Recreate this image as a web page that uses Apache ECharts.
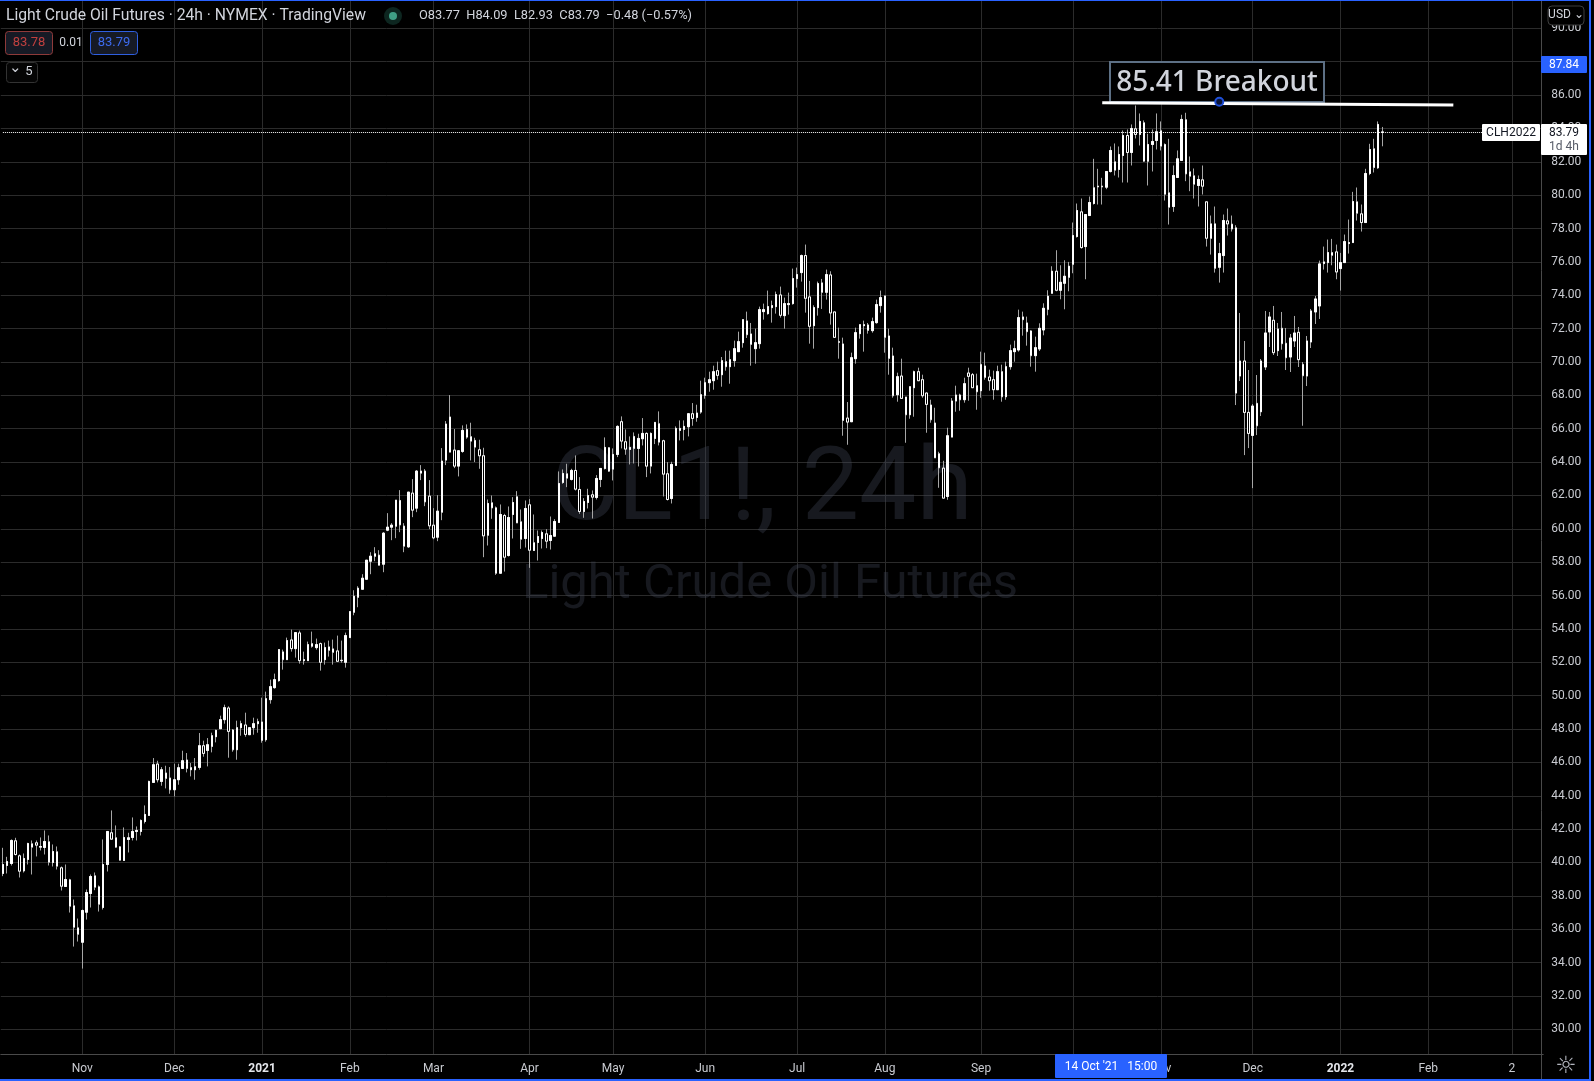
<!DOCTYPE html>
<html>
<head>
<meta charset="utf-8">
<title>Light Crude Oil Futures</title>
<script src="https://cdn.jsdelivr.net/npm/echarts@6/dist/echarts.min.js"></script>
<style>html,body{margin:0;padding:0;background:#000}#c{width:1594px;height:1081px}</style>
</head>
<body>
<div id="c"></div>
<script>
// Each row: [open, close, low, high]
const barsLate2020 = [
[39.34,39.88,39.18,40.88],[39.82,40.06,39.34,40.34],[39.94,41.32,39.82,41.38],[41.30,40.48,40.42,41.48],[40.40,39.48,39.10,40.48],
[39.50,40.24,39.40,40.54],[40.18,41.14,39.88,41.18],[41.12,40.92,39.28,41.32],[41.18,41.04,40.36,41.32],[40.92,40.96,40.72,41.50],
[40.90,41.26,40.48,41.92],[41.24,40.02,39.82,41.62],[40.00,40.66,39.76,41.08],[40.64,39.78,39.58,40.96],[39.68,38.58,38.32,39.76],
[38.56,38.98,38.56,39.88],[38.96,37.38,37.00,39.02],[37.40,36.12,34.96,37.78],[36.08,35.70,35.26,36.64],[35.22,37.12,33.64,37.18],
[37.02,38.20,36.58,38.38],[38.14,39.16,37.30,39.28],[39.20,38.52,38.34,39.40],[38.54,37.50,37.06,38.62],[37.30,39.88,37.18,41.38],
[39.88,41.86,39.46,41.86],[41.78,41.40,41.38,43.12],[41.48,40.92,40.88,42.22],[40.94,40.14,40.12,40.98],[40.12,41.50,40.12,42.10],
[41.38,41.48,40.60,41.78],[41.50,41.86,41.32,42.70],[41.86,41.92,41.32,42.16],[41.86,42.52,41.62,42.58],[42.46,42.88,42.34,43.42],
[42.82,44.86,42.82,44.90],[44.80,45.86,44.80,46.26],[45.90,44.96,44.80,46.10],[44.86,45.56,44.60,45.72],[45.36,45.04,44.44,45.80],
[45.06,44.36,44.12,45.72],[44.36,44.96,43.96,45.92],[44.96,45.68,44.66,45.92],[45.64,46.10,45.64,46.70],[46.14,45.64,45.40,46.56],
[45.56,45.68,45.16,45.96],[45.56,45.74,44.96,46.26],[45.70,47.00,45.56,47.76],[47.00,46.54,46.34,47.30],[46.72,47.06,45.76,47.46],
[46.96,47.60,46.60,47.78],[47.54,47.92,47.20,47.96],[48.02,48.56,48.02,48.80],[48.56,49.28,48.32,49.46],[49.26,47.86,46.28,49.36],
[47.94,46.76,46.64,48.00],[46.76,48.08,46.16,48.50],[48.08,48.32,47.60,48.50],[48.24,47.68,47.54,48.98],[47.66,48.08,47.66,48.08],
[48.08,48.32,47.66,48.68],[48.32,48.44,47.78,48.62]
];
const barsEarly2021 = [
[48.42,47.32,47.18,49.88],[47.36,49.82,47.24,50.24],[49.76,50.54,49.52,50.96],[50.48,50.96,50.42,51.32],[50.90,52.76,50.84,52.76],
[52.62,52.16,51.56,52.76],[52.16,53.30,52.16,53.48],[53.34,52.82,52.64,53.96],[52.82,53.78,52.28,53.78],[53.76,52.10,51.92,53.90],
[52.10,52.16,51.86,52.64],[52.10,53.06,52.10,53.24],[53.12,52.96,52.88,53.84],[52.88,53.06,52.76,53.42],[53.12,52.00,51.50,53.18],
[52.16,52.88,51.86,53.18],[52.92,52.72,52.34,53.30],[52.80,52.60,51.86,53.36],[52.68,52.06,52.02,53.60],[52.12,52.10,51.98,53.30],
[52.00,53.60,51.68,53.78],[53.48,55.04,53.48,55.04],[55.00,55.96,54.82,56.32],[55.90,56.44,55.30,56.56],[56.38,57.04,56.38,57.28],
[56.98,58.12,56.98,58.12],[58.06,58.36,57.28,58.60],[58.36,58.50,58.06,58.90],[58.42,57.82,57.82,58.72],[57.88,59.74,57.40,59.80],
[59.92,60.10,59.86,60.94],[60.10,60.22,59.32,60.34],[60.16,61.72,59.44,61.72],[61.70,60.24,59.80,62.32],[60.16,58.96,58.60,60.34],
[58.92,62.20,58.86,62.20],[62.14,61.12,60.70,62.98],[61.24,63.46,61.00,63.52],[63.34,63.46,62.92,63.82],[63.46,61.62,61.36,63.58],
[61.96,60.18,59.98,62.92],[60.22,59.46,59.38,61.24],[59.50,61.06,59.26,62.02],[61.00,64.06,60.52,64.84],[64.12,66.28,63.82,66.46],
[66.70,64.60,64.60,68.02],[64.72,63.76,63.64,65.98],[63.76,64.68,63.14,64.72],[64.64,65.90,64.56,66.20],[65.96,65.50,65.40,66.26],
[65.52,65.26,64.10,66.36],[65.30,64.90,64.00,65.46],[64.74,64.38,63.60,65.34],[64.38,59.58,58.30,64.86],[59.62,61.52,59.00,61.76],
[61.56,61.26,60.60,62.00],[61.26,57.34,57.24,61.34],[57.34,60.86,57.34,61.46],[60.80,58.30,57.44,60.90],[58.40,60.68,58.34,61.34],
[60.86,61.58,59.42,61.90],[61.92,60.36,60.36,62.26],[60.42,59.38,58.80,61.16],[59.42,61.22,58.88,61.70],[61.44,58.72,57.66,61.78],
[58.70,59.16,58.70,60.86],[59.18,59.54,58.10,59.90],[59.42,59.78,58.82,59.90],[59.70,59.26,58.84,59.98],[59.30,59.60,58.76,60.74],
[59.56,60.44,59.56,60.58],[60.38,62.72,60.38,63.44],[62.78,63.32,62.70,63.56],[63.30,63.04,62.50,63.90],[62.96,63.50,62.90,63.60],
[63.50,62.38,62.30,64.40],[62.36,61.04,60.90,63.10],[61.04,61.64,60.66,61.84],[61.58,62.00,61.22,62.40],[62.04,61.90,60.62,62.30],
[61.88,63.02,61.76,63.22],[62.96,63.62,62.50,63.62],[63.62,64.88,63.56,65.48],[64.86,63.46,63.42,64.90],[63.58,64.46,62.90,64.82],
[64.46,66.14,64.30,66.20],[66.42,65.26,64.82,66.74],[65.22,64.78,64.44,65.96],[64.76,64.88,63.86,65.54],[65.54,64.82,63.92,65.78],
[64.82,65.42,63.74,65.70],[65.40,65.72,65.00,66.64],[65.72,63.76,63.10,65.78],[63.76,65.72,63.32,65.78],[65.42,66.38,65.08,66.38],
[66.30,65.20,65.00,67.04],[65.28,63.28,61.94,65.34],[63.30,61.76,61.70,64.00],[61.82,63.86,61.52,64.02],[63.80,66.02,63.80,66.14],
[65.90,66.02,65.30,66.50],[65.96,66.14,65.30,66.50],[66.12,66.90,65.54,66.94],[66.90,66.62,66.18,67.54],[66.68,66.94,66.42,67.44]
];
const barsMid2021 = [
[67.00,68.04,66.90,68.88],[68.00,68.76,67.80,69.06],[68.76,68.94,68.22,69.42],[68.88,69.42,68.34,69.78],[69.48,69.20,68.94,70.02],
[69.24,70.08,68.52,70.30],[70.02,69.72,69.48,70.68],[69.72,70.14,68.70,70.68],[70.08,70.80,69.72,71.28],[70.62,71.22,70.62,71.82],
[71.16,72.54,70.86,72.54],[72.46,71.64,71.44,73.02],[71.68,71.06,69.78,72.34],[70.80,71.16,69.90,72.00],[71.10,73.14,70.80,73.32],
[73.02,73.14,72.54,73.50],[72.90,73.32,72.84,74.28],[73.26,73.38,72.36,73.68],[73.32,74.04,72.90,74.22],[74.02,72.80,72.66,74.52],
[72.78,73.50,72.00,73.86],[73.44,73.50,72.84,74.16],[73.50,75.00,73.44,75.60],[75.00,75.24,74.46,75.66],[75.36,76.38,74.82,76.44],
[76.38,73.82,72.96,77.04],[73.90,72.14,71.10,74.86],[72.18,73.26,70.80,73.40],[73.26,74.70,72.78,74.82],[74.74,74.18,73.18,74.98],
[74.18,75.24,73.74,75.54],[75.22,72.94,72.24,75.44],[73.00,71.48,71.48,73.00],[71.22,71.18,70.20,72.06],[71.08,66.50,65.58,71.46],
[66.64,66.40,65.04,67.60],[66.42,70.26,66.42,70.56],[70.20,71.76,69.90,72.06],[71.70,72.24,71.40,72.24],[72.18,72.24,70.62,72.48],
[72.22,71.90,71.70,72.34],[71.88,72.42,71.76,72.66],[72.36,73.44,72.30,73.74],[73.38,73.86,72.96,74.28],[73.96,71.48,70.56,73.96],
[71.56,70.22,69.24,72.00],[70.36,67.98,67.86,70.86],[68.04,69.12,67.62,69.36],[69.16,67.82,67.82,70.20],[67.90,66.84,65.16,67.90],
[66.84,68.52,66.60,68.52],[68.46,69.42,66.72,69.48],[69.42,68.88,68.88,69.66],[68.94,67.98,67.86,69.24],[68.14,67.46,65.76,68.16],
[67.42,66.54,66.36,67.74],[66.34,64.26,64.26,67.26],[64.50,63.66,62.46,64.62],[63.64,61.84,61.84,64.08],[61.94,65.58,61.74,66.06],
[65.50,67.66,65.50,67.84],[67.66,68.02,67.02,68.58],[68.02,67.74,67.08,68.10],[67.74,68.70,67.56,69.06],[69.34,69.14,67.68,69.66],
[69.24,68.46,68.46,69.34],[68.58,68.22,67.14,69.30],[68.28,69.84,67.86,70.62],[69.76,69.08,68.94,70.56],[69.10,68.88,68.28,69.54],
[68.94,68.34,67.74,69.48],[68.34,69.42,68.34,69.78],[69.42,67.92,67.62,69.84],[67.92,69.72,67.74,70.02],[69.72,70.68,69.54,71.04],
[70.62,70.80,70.02,71.28],[70.72,72.66,70.62,73.14],[72.70,72.54,71.58,73.02],[72.34,71.82,70.98,72.72],[71.86,70.38,69.72,71.90]
];
const barsLate2021 = [
[70.38,70.86,69.42,71.52],[70.78,72.02,70.66,72.32],[71.92,73.22,71.60,73.52],[73.16,73.94,72.80,74.30],[74.12,75.44,74.12,75.74],
[75.44,74.30,74.24,76.70],[74.30,74.78,73.76,75.80],[74.72,75.14,73.16,76.10],[75.08,75.74,74.24,76.00],[75.86,77.58,75.32,78.36],
[77.52,79.08,77.46,79.50],[79.00,76.86,76.80,79.80],[76.92,78.84,74.96,78.84],[78.78,79.56,78.78,79.92],[79.50,80.44,79.44,82.18],
[80.50,80.54,79.44,81.58],[80.54,80.50,79.44,81.04],[80.48,81.42,80.36,81.42],[81.42,82.68,81.36,82.92],[82.00,81.50,81.18,83.10],
[81.54,82.44,81.06,82.92],[82.38,83.58,80.76,83.88],[83.58,82.56,80.76,83.94],[82.56,84.00,81.78,84.24],[83.98,83.64,83.40,85.38],
[83.64,84.42,82.98,84.90],[84.34,82.04,82.00,84.48],[82.04,83.04,80.58,83.68],[83.04,83.22,81.42,83.94],[83.28,83.80,82.74,84.90],
[83.86,82.94,82.68,84.42],[83.04,80.06,79.68,83.10],[80.14,79.28,78.24,83.38],[79.32,81.18,79.00,81.78],[81.06,82.18,81.06,82.68],
[82.08,84.54,82.08,84.82],[84.52,81.28,80.84,84.94],[81.40,81.14,80.24,82.32],[81.16,80.66,79.80,81.60],[80.58,80.94,79.32,81.18],
[80.92,80.54,80.04,81.78],[79.60,77.42,76.92,79.60],[77.42,78.28,76.44,78.78],[78.28,75.62,75.36,79.32],[75.68,76.50,74.76,77.14],
[76.38,78.48,75.36,78.84],[78.46,78.28,77.58,79.20],[78.26,77.98,77.82,78.78],[78.04,68.14,67.42,78.20],[69.16,70.06,68.86,72.94],
[70.06,66.98,64.42,71.26],[66.98,65.72,64.84,69.52],[65.60,67.36,62.44,67.48],[67.52,66.18,65.62,69.22],[67.02,70.06,66.76,70.18],
[69.70,71.74,69.52,73.06],[71.80,72.70,70.90,73.00],[72.50,70.56,70.42,73.36],[70.68,71.98,70.36,72.34],[72.02,71.10,70.74,73.00],
[71.12,70.26,69.52,72.04],[70.30,71.44,69.40,71.68],[71.26,71.74,70.90,72.76],[71.78,70.14,69.70,72.10],[69.86,69.18,66.18,70.00],
[69.16,71.26,68.56,71.56],[71.20,73.06,70.84,73.18],[73.00,73.78,72.28,73.96],[73.36,75.88,72.58,76.08],[75.90,76.00,75.54,76.92],
[75.96,76.56,75.36,77.34],[76.56,76.40,75.80,77.38],[76.60,75.40,74.96,77.04],[75.60,75.96,74.28,76.54],[75.96,77.22,75.96,77.64]
];
const barsEarly2022 = [
[77.10,77.16,76.50,78.54],[77.16,79.62,77.16,80.20],[79.60,78.92,78.48,80.46],[78.88,78.36,77.82,79.44],[78.36,81.30,78.36,81.58],
[81.30,82.74,81.20,83.08],[82.78,81.66,81.36,83.38],[81.64,84.24,81.58,84.42],[83.77,83.79,82.93,84.09]
];
const quotes = [...barsLate2020, ...barsEarly2021, ...barsMid2021, ...barsLate2021, ...barsEarly2022];

// Month boundaries on the bar axis
const monthBars  = [19,41,62,83,103,126,146,168,190,211,234,256,277,299,320,341,361];
const monthNames = ['Nov','Dec','2021','Feb','Mar','Apr','May','Jun','Jul','Aug','Sep','Oct','Nov','Dec','2022','Feb','2'];
const futureBars = 38;
const priceTicks = [30,32,34,36,38,40,42,44,46,48,50,52,54,56,58,60,62,64,66,68,70,72,74,76,78,80,82,84,86,88,90];

const lastPrice = 83.79;
const breakoutStart = [262.9, 85.54];
const breakoutEnd   = [346.9, 85.40];
const breakoutHandle = [290.6, 85.60];

const categories = [];
for (let i = 0; i < quotes.length + futureBars; i++) categories.push(String(i));

const UI = 'Roboto, sans-serif';
const txt = (text, x, y, fill, size, align, extra) => ({
  type: 'text', z: 101, silent: true,
  style: Object.assign({ text, x, y, fill, font: size + 'px ' + UI, textAlign: align || 'left', textVerticalAlign: 'middle' }, extra || {})
});
const box = (x, y, w, h, fill, stroke, r, z, lw) => ({
  type: 'rect', z: z || 100, silent: true,
  shape: { x, y, width: w, height: h, r: r || 0 },
  style: { fill: fill, stroke: stroke || null, lineWidth: stroke ? (lw || 1) : 0 }
});

const chart = echarts.init(document.getElementById('c'), null, { renderer: 'canvas' });
chart.setOption({
  backgroundColor: '#000',
  animation: false,
  grid: { left: 0.8, right: 50.78, top: 1, bottom: 27 },
  xAxis: {
    type: 'category',
    data: categories,
    boundaryGap: true,
    axisLine: { show: true, lineStyle: { color: '#4a4a4a' } },
    axisTick: { show: false },
    splitLine: { show: true, alignWithLabel: true, interval: i => monthBars.includes(i), lineStyle: { color: '#2b2b2b', width: 1 } },
    axisLabel: {
      interval: i => monthBars.includes(i),
      margin: 9,
      color: '#c9cbd1',
      fontFamily: UI,
      fontSize: 12,
      hideOverlap: false,
      formatter: (v, idx) => {
        const name = monthNames[monthBars.indexOf(Number(v))];
        return /^20/.test(name) ? '{y|' + name + '}' : name;
      },
      rich: { y: { fontFamily: UI, fontSize: 12, fontWeight: 'bold', color: '#e3e5ea' } }
    }
  },
  yAxis: {
    type: 'value',
    position: 'right',
    min: 28.52,
    max: 91.64,
    axisLine: { show: false },
    axisTick: { show: false, customValues: priceTicks },
    splitLine: { show: true, lineStyle: { color: '#2b2b2b', width: 1 } },
    axisLabel: {
      customValues: priceTicks,
      margin: 8,
      padding: [3, 0, 0, 0],
      color: '#c9cbd1',
      fontFamily: UI,
      fontSize: 12,
      formatter: v => Number(v).toFixed(2)
    }
  },
  series: [
    {
      name: 'CL1! wicks',
      type: 'candlestick',
      barWidth: 2,
      z: 3,
      itemStyle: { color: '#fff', color0: '#000', borderColor: '#a6a6a6', borderColor0: '#a6a6a6', borderColorDoji: '#a6a6a6', borderWidth: 1 },
      data: quotes.map(q => q.slice()),
      markLine: {
        silent: true, symbol: 'none', animation: false, z: 6,
        label: { show: false },
        data: [
          [{ coord: [0, lastPrice], lineStyle: { color: '#fff', type: 'dotted', width: 1 } }, { coord: [353.8, lastPrice] }],
          [{ coord: breakoutStart, lineStyle: { color: '#fff', type: 'solid', width: 3 } }, { coord: breakoutEnd }]
        ]
      },
      markPoint: {
        silent: true, animation: false, z: 7,
        symbol: 'circle', symbolSize: 8,
        label: { show: false },
        itemStyle: { color: '#0b1538', borderColor: '#1f4fd8', borderWidth: 2 },
        data: [{ coord: breakoutHandle }]
      }
    },
    {
      name: 'CL1! bodies',
      type: 'candlestick',
      barWidth: 2,
      z: 4,
      itemStyle: { color: '#fff', color0: '#000', borderColor: '#fff', borderColor0: '#fff', borderColorDoji: '#fff', borderWidth: 1 },
      data: quotes.map(q => [q[0], q[1], Math.min(q[0], q[1]), Math.max(q[0], q[1])])
    }
  ],
  graphic: [
    // watermark
    { type: 'text', z: 1, silent: true, style: { text: 'CL1!, 24h', x: 762, y: 493, fill: 'rgba(70,75,95,0.33)', font: '102px ' + UI, textAlign: 'center', textVerticalAlign: 'middle' } },
    { type: 'text', z: 1, silent: true, style: { text: 'Light Crude Oil Futures', x: 770, y: 586, fill: 'rgba(70,75,95,0.33)', font: '49px ' + UI, textAlign: 'center', textVerticalAlign: 'middle' } },
    // price scale edge and frame
    box(1542, 0, 2, 1054, '#000'),
    { type: 'line', z: 100, silent: true, shape: { x1: 1541.5, y1: 0, x2: 1541.5, y2: 1081 }, style: { stroke: '#4a4a4a', lineWidth: 1 } },
    box(1591, 0, 3, 1081, '#000', null, 0, 103),
    box(0, 0, 1591, 1, '#2962ff', null, 0, 102),
    box(1589, 0, 2, 1081, '#2962ff', null, 0, 102),
    box(0, 1079, 1591, 2, '#2962ff', null, 0, 102),
    // legend
    txt('Light Crude Oil Futures · 24h · NYMEX · TradingView', 6, 16, '#d1d4dc', 15.7),
    { type: 'circle', z: 100, silent: true, shape: { cx: 393, cy: 16, r: 9 }, style: { fill: '#0d2620' } },
    { type: 'circle', z: 101, silent: true, shape: { cx: 393, cy: 16, r: 4 }, style: { fill: '#3f9f85' } },
    txt('O83.77  H84.09  L82.93  C83.79  −0.48 (−0.57%)', 419, 16, '#d1d4dc', 12.8),
    box(5.5, 31.5, 47, 23, '#161a25', '#8e3a3a', 3),
    txt('83.78', 29, 43, '#c0403f', 13, 'center'),
    txt('0.01', 71, 43, '#d1d4dc', 12, 'center'),
    box(90.5, 31.5, 47, 23, '#161a25', '#2f5fe0', 3),
    txt('83.79', 114, 43, '#3d6bf0', 13, 'center'),
    box(6.5, 62.5, 31, 20, '#050505', '#333333', 3),
    txt('⌄', 15, 68, '#d1d4dc', 15, 'center'),
    txt('5', 29, 72, '#d1d4dc', 13, 'center'),
    // breakout note
    box(1110, 62, 214, 40, '#000', '#5d7085', 0, 5, 2),
    { type: 'text', z: 5, silent: true, style: { text: '85.41 Breakout', x: 1217, y: 83, fill: '#d1d4dc', font: '500 28px "Noto Sans", sans-serif', textAlign: 'center', textVerticalAlign: 'middle' } },
    // price scale tags
    box(1548, 6, 36, 19, '#000', '#3d3d3d', 4),
    txt('USD ⌄', 1566, 15, '#d1d4dc', 12, 'center'),
    box(1541, 56, 46, 17, '#2962ff', null, 1),
    txt('87.84', 1564, 65, '#ffffff', 12, 'center'),
    box(1482, 124, 58, 17, '#ffffff', null, 1),
    txt('CLH2022', 1511, 133, '#131722', 12, 'center'),
    box(1541, 124, 46, 31, '#ffffff', null, 1),
    txt('83.79', 1564, 133, '#131722', 12, 'center'),
    txt('1d 4h', 1564, 147, '#555a66', 12, 'center'),
    // time scale tag
    box(1055, 1054, 112, 24, '#2962ff', null, 1),
    txt("14 Oct '21   15:00", 1111, 1067, '#ffffff', 12, 'center'),
    txt('☼', 1566, 1067, '#b2b5be', 24, 'center', { font: '24px "DejaVu Sans"' })
  ]
});
</script>
</body>
</html>
